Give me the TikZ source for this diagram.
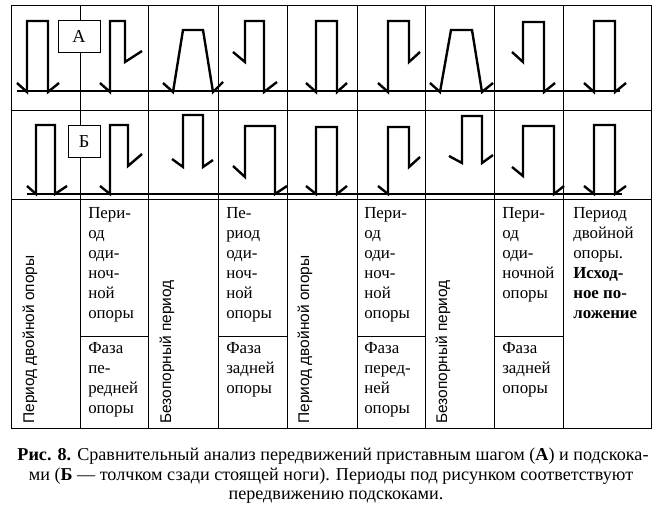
\documentclass[tikz,border=0pt]{standalone}
\usepackage{fontspec}
\setmainfont{Liberation Serif}
\setsansfont{Liberation Sans}
\usetikzlibrary{positioning}

\begin{document}
\begin{tikzpicture}[
    x=0.025cm, y=-0.025cm,
    grid/.style={line width=0.7pt},
    ground/.style={line width=0.9pt},
    leg/.style={line width=1.7pt, line join=miter},
    letterbox/.style={rectangle, draw, line width=0.7pt, fill=white, minimum height=0.78cm, inner sep=0pt, font=\fontsize{13}{15}\selectfont},
    celltext/.style={anchor=north west, inner sep=0pt, align=left, font=\fontsize{12}{14.2}\selectfont},
    vertext/.style={anchor=west, inner sep=0pt, rotate=90, font=\sffamily\fontsize{11}{13}\selectfont},
    captext/.style={anchor=base, inner sep=0pt, font=\fontsize{12.9}{16}\selectfont}
]
\fill[white] (0,0) rectangle (658,511);
\useasboundingbox (0,0) rectangle (658,511);

% table
\draw[grid] (11,5) rectangle (651,428);
\draw[grid] (11,110) -- (651,110);
\draw[grid] (11,199) -- (651,199);
\draw[grid] (80,5) -- (80,428);
\draw[grid] (148,5) -- (148,428);
\draw[grid] (218,5) -- (218,428);
\draw[grid] (287,5) -- (287,428);
\draw[grid] (357,5) -- (357,428);
\draw[grid] (425,5) -- (425,428);
\draw[grid] (494,5) -- (494,428);
\draw[grid] (563,5) -- (563,428);
\draw[grid] (80,336) -- (148,336);
\draw[grid] (218,336) -- (287,336);
\draw[grid] (357,336) -- (425,336);
\draw[grid] (494,336) -- (563,336);

% ground lines
\draw[ground] (17,91) -- (620,91);
\draw[ground] (27,194) -- (622,194);

% row A
\draw[leg] (17,83) -- (27,92) -- (27,21) -- (48,21) -- (48,92) -- (59,83);
\draw[leg] (100,83) -- (110,92) -- (110,21) -- (125,21) -- (125,62) -- (142,51);
\draw[leg] (163,83) -- (173,92) -- (183,30) -- (203,30) -- (213,92) -- (223,82);
\draw[leg] (233,52) -- (245,62) -- (245,21) -- (264,21) -- (264,92) -- (277,82);
\draw[leg] (306,83) -- (316,92) -- (316,21) -- (337,21) -- (337,92) -- (347,83);
\draw[leg] (378,83) -- (388,92) -- (388,21) -- (409,21) -- (409,62) -- (420,52);
\draw[leg] (430,83) -- (440,92) -- (451,30) -- (472,30) -- (482,92) -- (493,83);
\draw[leg] (512,52) -- (523,62) -- (523,22) -- (544,22) -- (544,92) -- (555,83);
\draw[leg] (584,83) -- (594,92) -- (594,21) -- (615,21) -- (615,92) -- (626,83);

% row B
\draw[leg] (27,186) -- (36,194) -- (36,125) -- (55,125) -- (55,194) -- (67,186);
\draw[leg] (100,186) -- (110,194) -- (110,125) -- (128,125) -- (128,166) -- (142,154);
\draw[leg] (172,159) -- (183,167) -- (183,115) -- (203,115) -- (203,167) -- (213,160);
\draw[leg] (233,166) -- (245,177) -- (245,126) -- (275,126) -- (275,194) -- (287,186);
\draw[leg] (306,186) -- (316,194) -- (316,127) -- (337,127) -- (337,194) -- (347,186);
\draw[leg] (378,186) -- (388,194) -- (388,127) -- (409,127) -- (409,167) -- (420,157);
\draw[leg] (449,156) -- (462,163) -- (462,116) -- (482,116) -- (482,163) -- (493,155);
\draw[leg] (512,167) -- (523,176) -- (523,126) -- (554,126) -- (554,194) -- (564,186);
\draw[leg] (584,186) -- (594,194) -- (594,125) -- (615,125) -- (615,194) -- (626,186);

\node[letterbox, minimum width=1.05cm] (boxA) at (79,36.5) {А};
\node[letterbox, minimum width=0.8cm] (boxB) at (84,141.5) {Б};

% periods
\node[vertext] (dbl1) at (30,424) {Период двойной опоры};
\node[vertext] (fly1) at (167,424) {Безопорный период};
\node[vertext] (dbl2) at (305,424) {Период двойной опоры};
\node[vertext] (fly2) at (443,424) {Безопорный период};

\node[celltext] (sgl1) at (88,207) {Пери-\\од\\оди-\\ноч-\\ной\\опоры};
\node[celltext] (fr1) at (88,342) {Фаза\\пе-\\редней\\опоры};
\node[celltext] (sgl2) at (226,207) {Пе-\\риод\\оди-\\ноч-\\ной\\опоры};
\node[celltext] (bk1) at (226,342) {Фаза\\задней\\опоры};
\node[celltext] (sgl3) at (364,207) {Пери-\\од\\оди-\\ноч-\\ной\\опоры};
\node[celltext] (fr2) at (364,342) {Фаза\\перед-\\ней\\опоры};
\node[celltext] (sgl4) at (502,207) {Пери-\\од\\оди-\\ночной\\опоры};
\node[celltext] (bk2) at (502,342) {Фаза\\задней\\опоры};
\node[celltext] (start) at (573,207) {Период\\двойной\\опоры.\\\textbf{Исход-}\\\textbf{ное по-}\\\textbf{ложение}};

% caption
\node[captext] (cap1) at (333,460) {\textbf{Рис. 8.} Сравнительный анализ передвижений приставным шагом (\textbf{А}) и подскока-};
\node[captext] (cap2) at (331,480) {ми (\textbf{Б} — толчком сзади стоящей ноги). Периоды под рисунком соответствуют};
\node[captext] (cap3) at (336,499) {передвижению подскоками.};
\end{tikzpicture}
\end{document}
